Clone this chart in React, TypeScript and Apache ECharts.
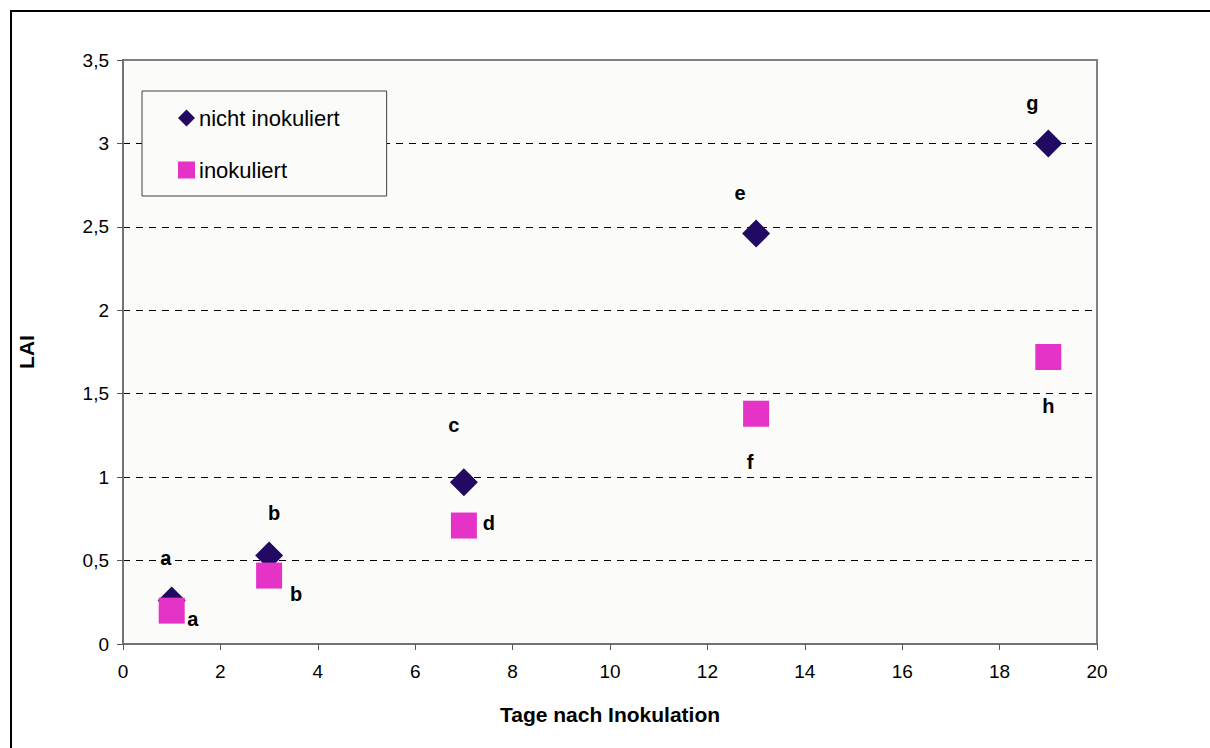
import React, { useEffect, useRef } from "react";
import * as echarts from "echarts";

const days = [1, 3, 7, 13, 19];
const nichtInokuliert = [0.26, 0.53, 0.97, 2.46, 3.0];
const inokuliert = [0.2, 0.41, 0.71, 1.38, 1.72];
const lettersNicht = ["a", "b", "c", "e", "g"];
const lettersInok = ["a", "b", "d", "f", "h"];
const seriesNames = ["nicht inokuliert", "inokuliert"];
const xTitle = "Tage nach Inokulation";
const yTitle = "LAI";

// label placement (pixel offsets from the marker centre) — styling only
const offsetsNicht = [[-6, -43], [5, -43], [-10, -57], [-16, -41], [-16, -40]];
const offsetsInok = [[21, 8], [27, 18], [25, -3], [-6, 48], [0, 49]];

const FONT = "'Liberation Sans', Arial, Helvetica, sans-serif";

export default function App() {
  const ref = useRef<HTMLDivElement>(null);
  useEffect(() => {
    if (!ref.current) return;
    const chart = echarts.init(ref.current, undefined, { renderer: "svg" });
    const mk = (vals: number[], letters: string[], offs: number[][]) =>
      vals.map((v, i) => ({
        value: [days[i], v],
        label: {
          show: true,
          formatter: letters[i],
          position: "inside",
          offset: offs[i],
        },
      }));
    const labelStyle = {
      color: "#000",
      fontFamily: FONT,
      fontWeight: "bold",
      fontSize: 20,
    };
    chart.setOption({
      animation: false,
      backgroundColor: "#ffffff",
      textStyle: { fontFamily: FONT },
      grid: {
        left: 123,
        top: 60,
        right: 113,
        bottom: 104,
        show: true,
        backgroundColor: "#fbfbf9",
        borderColor: "#7c8281",
        borderWidth: 2,
      },
      legend: {
        left: 142,
        top: 91,
        orient: "vertical",
        padding: [16, 47, 15, 36],
        itemWidth: 17,
        itemHeight: 17,
        itemGap: 30,
        borderColor: "#404040",
        borderWidth: 1,
        backgroundColor: "#fbfbf9",
        textStyle: { fontFamily: FONT, fontSize: 22, color: "#000", lineHeight: 22, padding: [0, 0, 0, -1] },
        data: [
          { name: seriesNames[0], icon: "diamond" },
          { name: seriesNames[1], icon: "rect" },
        ],
      },
      xAxis: {
        type: "value",
        min: 0,
        max: 20,
        interval: 2,
        name: xTitle,
        nameLocation: "middle",
        nameGap: 60,
        nameTextStyle: { fontFamily: FONT, fontWeight: "bold", fontSize: 21, color: "#000" },
        axisLine: { show: true, lineStyle: { color: "#6f7473", width: 2 } },
        axisTick: { show: true, inside: false, length: 6, lineStyle: { color: "#555" } },
        axisLabel: { fontFamily: FONT, fontSize: 19, color: "#000", margin: 18 },
        splitLine: { show: false },
      },
      yAxis: {
        type: "value",
        min: 0,
        max: 3.5,
        interval: 0.5,
        name: yTitle,
        nameLocation: "middle",
        nameGap: 86,
        nameRotate: 90,
        nameTextStyle: { fontFamily: FONT, fontWeight: "bold", fontSize: 21, color: "#000" },
        axisLine: { show: true, lineStyle: { color: "#6f7473", width: 2 } },
        axisTick: { show: true, inside: false, length: 6, lineStyle: { color: "#555" } },
        axisLabel: {
          fontFamily: FONT,
          fontSize: 19,
          color: "#000",
          margin: 14,
          formatter: (v: number) => String(v).replace(".", ","),
        },
        splitLine: {
          show: true,
          showMinLine: false,
          showMaxLine: false,
          lineStyle: { color: "#000", type: [7, 6], width: 1 },
        },
      },
      graphic: [
        {
          type: "rect",
          shape: { x: 11, y: 11, width: 1300, height: 800 },
          style: { fill: "none", stroke: "#000", lineWidth: 2 },
          silent: true,
        },
      ],
      series: [
        {
          name: seriesNames[0],
          type: "scatter",
          symbol: "diamond",
          symbolSize: [28, 28],
          itemStyle: { color: "#220a62", opacity: 1 },
          label: labelStyle,
          data: mk(nichtInokuliert, lettersNicht, offsetsNicht),
          z: 2,
        },
        {
          name: seriesNames[1],
          type: "scatter",
          symbol: "rect",
          symbolSize: [26, 26],
          itemStyle: { color: "#e533c8", opacity: 1 },
          label: labelStyle,
          data: mk(inokuliert, lettersInok, offsetsInok),
          z: 3,
        },
      ],
    });
    return () => chart.dispose();
  }, []);
  return (
    <div
      ref={ref}
      style={{ position: "absolute", left: 0, top: 0, width: 1210, height: 748 }}
    />
  );
}
